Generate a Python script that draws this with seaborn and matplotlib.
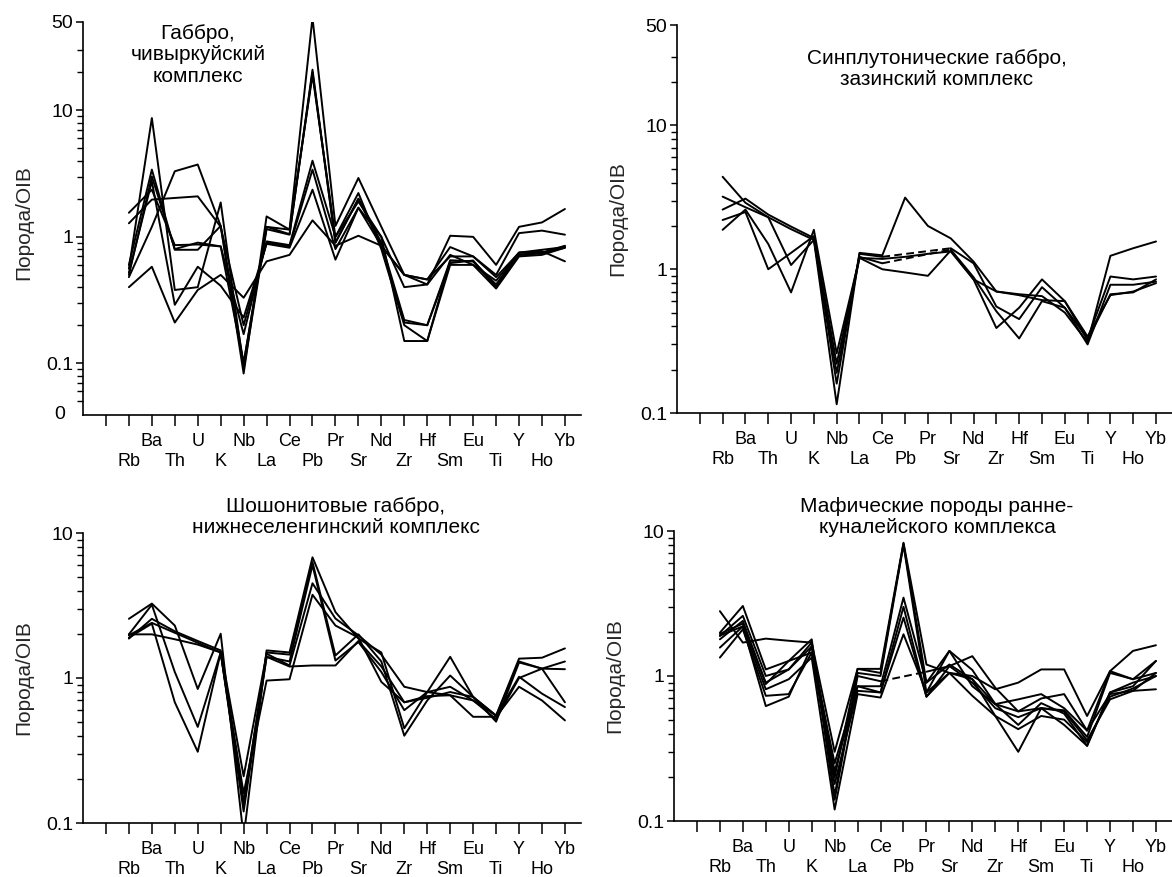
import numpy as np
import pandas as pd
import matplotlib
matplotlib.use("Agg")
import matplotlib.pyplot as plt
import seaborn as sns
from matplotlib.ticker import FixedLocator, NullFormatter

# Spider diagrams: rock / OIB, four gabbro complexes
elements = ["Rb", "Ba", "Th", "U", "K", "Nb", "La", "Ce", "Pb", "Pr",
            "Sr", "Nd", "Zr", "Hf", "Sm", "Eu", "Ti", "Y", "Ho", "Yb"]

nan = np.nan

chivyrkui = [
    [0.56, 8.7, 0.38, 0.40, 1.87, 0.09, 1.15, 1.04, 21, 0.90, 2.0, 0.85, 0.21, 0.20, 0.65, 0.64, 0.42, 0.75, 0.79, 0.83],
    [0.60, 3.4, 0.79, 0.79, 1.22, 0.10, 1.20, 1.14, 54, 1.22, 2.92, 1.20, 0.50, 0.46, 0.70, 0.70, 0.48, 0.75, 0.75, 0.82],
    [1.55, 2.36, 0.86, 0.87, 0.84, 0.17, 0.92, 0.86, 4.0, 1.0, 1.9, 1.0, 0.40, 0.42, 1.02, 1.0, 0.60, 1.2, 1.3, 1.66],
    [1.28, 1.97, 2.03, 2.09, 1.20, 0.20, 0.90, 0.84, 3.4, 0.80, 1.7, 0.85, 0.50, 0.46, 0.83, 0.70, 0.50, 1.07, 1.12, 1.04],
    [0.48, 1.2, 3.3, 3.73, 1.22, 0.083, 1.45, 1.14, 19, 1.0, 2.22, 0.80, 0.20, 0.15, 0.60, 0.60, 0.39, 0.70, 0.72, 0.82],
    [0.40, 0.58, 0.21, 0.38, 0.50, 0.33, 0.64, 0.72, 1.35, 0.85, 1.02, 0.85, 0.50, 0.42, 0.72, 0.60, 0.45, 0.75, 0.77, 0.64],
    [0.52, 2.75, 0.29, 0.58, 0.41, 0.23, 0.88, 0.82, 2.36, 0.66, 1.7, 1.0, 0.15, 0.15, 0.65, 0.64, 0.40, 0.72, 0.75, 0.85],
    [0.50, 3.0, 0.80, 0.90, 0.84, 0.10, 1.20, 1.05, 20, 0.90, 2.0, 0.90, 0.22, 0.20, 0.62, 0.65, 0.40, 0.72, 0.74, 0.84],
]

zazinsky = [
    [4.4, 2.9, 2.3, 1.9, 1.6, 0.115, 1.3, 1.25, 3.15, 2.0, 1.64, 1.13, 0.70, 0.67, 0.65, 0.50, 0.31, 1.24, 1.4, 1.56],
    [3.2, 2.7, 2.3, 1.07, 1.6, 0.19, 1.2, 1.0, 0.95, 0.90, 1.35, 0.85, 0.39, 0.54, 0.85, 0.60, 0.32, 0.67, 0.69, 0.85],
    [2.6, 3.1, 2.4, 1.98, 1.65, 0.16, 1.28, 1.22, nan, nan, 1.4, 1.1, 0.55, 0.45, 0.75, 0.54, 0.33, 0.89, 0.85, 0.89],
    [2.2, 2.5, 1.0, 1.3, 1.7, 0.22, 1.22, 1.1, nan, nan, 1.37, 0.88, 0.51, 0.33, 0.60, 0.54, 0.30, 0.78, 0.78, 0.82],
    [1.88, 2.6, 1.5, 0.69, 1.88, 0.26, 1.2, 1.18, 1.22, 1.28, 1.33, 0.85, 0.70, 0.66, 0.61, 0.60, 0.34, 0.66, 0.70, 0.80],
]

nizhneselenginsky = [
    [2.56, 3.26, 2.3, 0.84, 2.02, 0.08, 1.55, 1.5, 6.8, 2.85, 1.87, 1.5, 0.45, 0.8, 1.4, 0.74, 0.55, 1.36, 1.38, 1.6],
    [2.0, 3.2, 1.1, 0.46, 1.5, 0.13, 1.5, 1.45, 6.3, 1.43, 2.0, 1.3, 0.40, 0.7, 1.04, 0.74, 0.50, 1.28, 1.16, 1.3],
    [1.9, 2.37, 0.68, 0.31, 1.5, 0.14, 1.4, 1.3, 6.0, 1.32, 1.77, 1.1, 0.60, 0.8, 0.87, 0.70, 0.52, 1.0, 1.16, 1.15],
    [1.87, 2.56, 2.1, 1.8, 1.55, 0.21, 1.47, 1.22, 4.5, 2.57, 1.97, 1.45, 0.87, 0.8, 0.76, 0.70, 0.55, 1.02, 0.78, 0.63],
    [2.0, 2.0, 1.85, 1.7, 1.5, 0.16, 0.96, 0.98, 3.75, 2.3, 1.9, 0.94, 0.68, 0.75, 0.76, 0.54, 0.54, 0.87, 0.70, 0.51],
    [1.97, 2.4, 2.05, 1.75, 1.5, 0.12, 1.4, 1.2, 1.22, 1.22, 1.8, 1.2, 0.68, 0.73, 0.80, 0.74, 0.55, 1.3, 1.16, 0.68],
]

kunaleisky = [
    [2.8, 1.7, 1.81, 1.75, 1.7, 0.30, 1.12, 1.12, 8.3, 1.2, 1.05, 1.0, 0.81, 0.90, 1.11, 1.11, 0.53, 1.08, 1.49, 1.63],
    [1.99, 3.04, 1.11, 1.27, 1.79, 0.15, 1.05, 1.0, 8.0, 0.77, 1.49, 1.1, 0.64, 0.57, 0.70, 0.75, 0.42, 1.08, 0.95, 1.27],
    [1.89, 2.6, 1.0, 1.11, 1.6, 0.22, 0.85, 0.85, 3.47, 0.90, 1.49, 0.85, 0.64, 0.46, 0.65, 0.55, 0.33, 0.77, 0.85, 1.27],
    [1.79, 2.4, 0.88, 1.27, 1.45, 0.18, 0.79, 0.77, 2.53, 0.72, 1.17, 1.37, 0.83, 0.57, 0.60, 0.57, 0.36, 0.69, 0.79, 1.05],
    [1.57, 2.2, 0.81, 0.95, 1.34, 0.12, 0.75, 0.71, 1.94, 0.77, 1.05, 0.95, 0.53, 0.30, 0.60, 0.46, 0.33, 0.77, 0.90, 1.0],
    [1.34, 2.1, 0.73, 0.75, 1.45, 0.25, 0.85, 0.77, 3.0, 0.72, 1.05, 0.73, 0.53, 0.43, 0.53, 0.50, 0.35, 0.72, 0.82, 1.0],
    [1.9, 2.2, 0.62, 0.72, 1.6, 0.20, 1.12, 1.05, 8.2, 0.90, 1.2, 0.95, 0.64, 0.69, 0.75, 0.60, 0.42, 0.75, 0.79, 0.81],
    [1.95, 2.3, 0.90, 1.11, 1.7, 0.14, 1.0, 0.92, nan, 1.07, 1.17, 0.90, 0.60, 0.52, 0.60, 0.58, 0.38, 1.05, 0.95, 1.05],
]

titles = [
    "Габбро,\nчивыркуйский\nкомплекс",
    "Синплутонические габбро,\nзазинский комплекс",
    "Шошонитовые габбро,\nнижнеселенгинский комплекс",
    "Мафические породы ранне-\nкуналейского комплекса",
]


def to_long(samples):
    """Split each sample into solid runs and dashed bridges over missing values."""
    rows = []
    seg = 0
    for vals in samples:
        run, prev = [], None
        for i, v in enumerate(vals):
            if np.isnan(v):
                if run:
                    rows += [(seg, "solid", p, y) for p, y in run]
                    seg += 1
                    prev, run = run[-1], []
                continue
            if prev is not None and not run:
                rows += [(seg, "gap", prev[0], prev[1]), (seg, "gap", i, v)]
                seg += 1
                prev = None
            run.append((i, v))
        if run:
            rows += [(seg, "solid", p, y) for p, y in run]
            seg += 1
    return pd.DataFrame(rows, columns=["seg", "kind", "pos", "value"])


W, H = 1172, 877


def rect(l, r, t, b):
    return [l / W, 1 - b / H, (r - l) / W, (b - t) / H]


panels = [
    dict(data=chivyrkui, rect=rect(83, 581, 22, 415), ylim=(0.039, 50),
         title_xy=(198, 55), ylab_y=0.49),
    dict(data=zazinsky, rect=rect(677, 1172, 25, 413), ylim=(0.1, 50),
         title_xy=(937, 69), ylab_y=0.5),
    dict(data=nizhneselenginsky, rect=rect(83, 581, 533, 823), ylim=(0.1, 10),
         title_xy=(336, 517), ylab_y=0.5),
    dict(data=kunaleisky, rect=rect(674, 1172, 531, 821), ylim=(0.1, 10),
         title_xy=(937, 517), ylab_y=0.5),
]

sns.set_theme(style="ticks")
plt.rcParams["font.family"] = ["Liberation Sans", "DejaVu Sans"]

fig = plt.figure(figsize=(W / 100, H / 100), dpi=100)

xticklabels = [""] + [("\n" + e) if i % 2 == 0 else e for i, e in enumerate(elements)]

for k, p in enumerate(panels):
    ax = fig.add_axes(p["rect"])
    df = to_long(p["data"])
    has_gap = (df["kind"] == "gap").any()
    sns.lineplot(
        data=df, x="pos", y="value", units="seg",
        style="kind" if has_gap else None,
        dashes={"solid": "", "gap": (4, 2.2)} if has_gap else True,
        estimator=None, sort=False, color="black", linewidth=1.4,
        legend=False, ax=ax,
    )
    ax.set_yscale("log")
    lo, hi = p["ylim"]
    ax.set_ylim(lo, hi)
    ax.set_xlim(-2, 19.7)

    major = [v for v in (0.1, 1, 10, 50) if lo <= v <= hi]
    labels = ["0.1" if v == 0.1 else str(int(v)) for v in major]
    ax.yaxis.set_major_locator(FixedLocator(major))
    ax.set_yticklabels(labels)
    minor = [m * d for d in (0.01, 0.1, 1) for m in range(2, 10)] + [20, 30]
    minor = [v for v in minor if lo * 1.2 < v < hi and v not in major]
    ax.yaxis.set_minor_locator(FixedLocator(minor))
    ax.yaxis.set_minor_formatter(NullFormatter())
    if lo < 0.1:
        # the reference marks the foot of the log axis with a bare "0"
        ax.text(-0.035, 0, "0", transform=ax.transAxes, ha="right",
                va="center", fontsize=14, color="black")

    ax.set_xticks(range(-1, 20))
    ax.set_xticklabels(xticklabels)
    ax.set_xlabel("")
    ax.set_ylabel("Порода/OIB", fontsize=15)
    ax.yaxis.set_label_coords(-0.10, p["ylab_y"])

    ax.tick_params(axis="x", direction="out", length=8, width=1.1,
                   labelsize=13, pad=5, color="black", labelcolor="black")
    ax.tick_params(axis="y", which="major", direction="out", length=5,
                   width=1.1, labelsize=14, pad=2, color="black", labelcolor="black")
    ax.tick_params(axis="y", which="minor", direction="out", length=4,
                   width=1.0, color="black")
    for side in ("top", "right"):
        ax.spines[side].set_visible(False)
    for side in ("left", "bottom"):
        ax.spines[side].set_linewidth(1.2)
        ax.spines[side].set_color("black")

    tx, ty = p["title_xy"]
    fig.text(tx / W, 1 - ty / H, titles[k], ha="center", va="center",
             fontsize=15, linespacing=1.15, color="black")

fig.savefig("out.png", dpi=100)
